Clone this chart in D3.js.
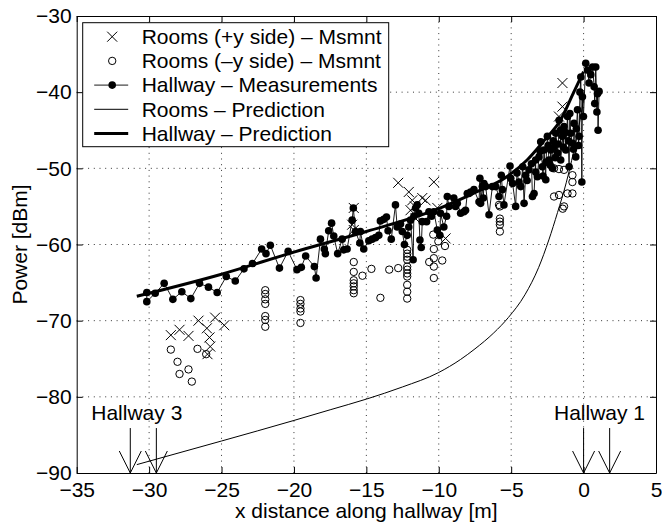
<!DOCTYPE html>
<html>
<head>
<meta charset="utf-8">
<script src="https://cdn.jsdelivr.net/npm/d3@7"></script>
<style>
  body { margin: 0; background: #fff; }
  text { font-family: "Liberation Sans", Arial, Helvetica, sans-serif; }
</style>
</head>
<body>
<script>
// hallway measurements (x [m], power [dBm])
var hallX = [-30.16,-30.16,-29.58,-28.96,-28.36,-27.74,-27.12,-26.52,-25.9,-25.3,-24.67,-24.05,-23.45,-22.86,-22.23,-21.93,-21.63,-21.0,-20.4,-19.79,-19.49,-19.19,-18.59,-18.47,-18.17,-17.9,-17.83,-17.6,-17.4,
  -17.25,-16.98,-16.67,-16.56,-16.33,-15.98,-15.9,-15.75,-15.45,-15.41,-15.18,-14.83,-14.6,-14.37,-14.14,-14.03,-13.8,-13.61,-13.5,-13.28,-12.99,-12.87,-12.64,-12.52,-12.37,-12.18,-12.07,-11.95,-11.77,-11.72,-11.6,-11.49,-11.38,-11.3,-11.21,-11.14,-10.84,-10.68,-10.5,-10.34,-10.1,-9.92,-9.88,-9.65,-9.46,-9.41,-9.3,
  -8.96,-8.84,-8.72,-8.49,-8.26,-8.15,-8.03,-7.92,-7.8,-7.57,-7.22,-7.16,-7.11,-6.99,-6.92,-6.88,-6.76,-6.53,-6.3,-6.07,-5.84,-5.68,-5.61,-5.5,-5.08,-5.03,-4.9,-4.69,-4.6,-4.46,-4.34,-4.2,-4.11,-4.0,-3.9,-3.77,-3.6,-3.53,-3.42,-3.31,-3.3,-3.19,-3.08,-3.0,-2.96,-2.85,-2.8,-2.73,-2.61,-2.6,-2.5,-2.45,-2.39,-2.3,-2.27,-2.15,-2.1,-2.04,-1.95,-1.92,-1.8,-1.75,-1.69,-1.6,-1.58,-1.46,-1.4,-1.35,-1.25,-1.23,-1.11,-1.05,-1.0,-0.95,-0.89,-0.77,-0.7,-0.66,-0.54,-0.5,-0.42,-0.35,-0.31,-0.25,-0.19,-0.12,-0.08,-0.01,
  0.15,0.27,0.38,0.5,0.62,0.73,0.77,0.84,0.92,0.96,1.0,1.07];
var hallY = [-66.3,-67.5,-66.4,-65.1,-67.2,-66.2,-67.1,-65.1,-65.6,-66.3,-64.2,-64.8,-63.2,-62.5,-60.6,-61.2,-60.1,-63.1,-60.9,-63.3,-63.0,-61.5,-62.9,-64.4,-59.3,-60.6,-61.2,-58.2,-57.2,
  -58.9,-61.2,-59.3,-60.7,-60.6,-56.8,-55.2,-58.3,-59.8,-58.3,-60.6,-59.5,-59.3,-59.1,-58.8,-56.9,-56.7,-56.4,-58.2,-59.3,-54.8,-57.7,-57.3,-58.3,-60.0,-58.8,-57.7,-56.8,-62.0,-56.3,-55.2,-54.8,-55.9,-59.4,-60.4,-57.0,-57.0,-55.7,-56.3,-55.7,-58.1,-58.8,-55.9,-57.7,-56.3,-53.7,-55.0,
  -53.9,-55.0,-54.6,-55.9,-55.7,-55.5,-53.3,-53.3,-53.1,-52.8,-54.4,-51.3,-54.6,-52.4,-53.9,-52.0,-52.4,-56.1,-52.4,-52.4,-53.7,-50.9,-52.8,-54.8,-49.7,-51.3,-52.0,-55.0,-50.6,-51.8,-52.4,-49.8,-54.6,-50.9,-51.6,-50.2,-49.4,-53.7,-53.3,-48.9,-50.5,-51.1,-48.5,-47.8,-46.5,-49.8,-51.0,-47.6,-51.5,-49.2,-45.8,-47.0,-48.9,-49.6,-47.6,-50.0,-46.4,-47.2,-48.6,-45.4,-48.0,-46.8,-43.7,-45.0,-48.9,-45.8,-47.2,-44.5,-45.3,-47.6,-43.2,-46.4,-49.8,-42.8,-45.4,-46.7,-47.5,-44.1,-48.5,-44.8,-42.3,-47.0,-45.8,-40.0,-38.0,-51.8,-40.6,-43.2,
  -36.2,-37.1,-38.8,-37.7,-36.7,-39.3,-41.5,-36.7,-42.6,-40.2,-45.0,-39.9];

// rooms on +y side (x markers)
var plusX = [-28.5,-27.9,-27.28,-26.59,-26.01,-25.44,-25.83,-25.78,-25.97,-24.81,-15.98,-15.87,-15.87,-12.8,-12.07,-11.83,-11.14,-10.91,-10.34,-10.1,-9.53,-11.95,-11.6,-11.65,-1.46,-1.46,-1.7];
var plusY = [-71.9,-71.2,-72.0,-70.0,-71.0,-69.6,-72.2,-73.4,-74.4,-70.6,-57.4,-58.1,-55.2,-51.9,-53.1,-54.2,-53.9,-54.2,-51.8,-55.2,-59.2,-55.5,-56.6,-55.0,-38.8,-41.9,-43.2];

// rooms on -y side (open circles)
var minusX = [-28.5,-28.04,-27.9,-27.28,-27.05,-26.66,-26.06,-21.98,-21.98,-21.98,-21.98,-21.98,-21.98,-21.98,-19.55,-19.55,-19.55,-19.55,-19.55,
  -15.87,-15.87,-15.87,-15.87,-15.87,-15.87,-15.87,-15.27,-14.65,-14.03,-13.42,-12.8,
  -12.18,-12.18,-12.18,-12.18,-12.18,-12.18,-12.18,-12.18,-12.18,-12.18,-12.18,
  -10.38,-10.34,-10.34,-10.34,-10.34,-10.66,-9.76,-10.03,-9.57,
  -5.84,-5.78,-5.78,-5.78,-5.78,-5.78,-2.04,-1.7,-1.35,-2.04,-1.7,-1.35,-0.77,-0.77,-0.77,-1.11,-1.44];
var minusY = [-73.8,-75.4,-77.0,-76.4,-78.0,-73.7,-74.4,-66.0,-66.5,-67.2,-67.8,-69.4,-69.9,-70.8,-67.3,-67.8,-68.4,-68.8,-70.3,
  -62.3,-63.6,-64.7,-65.1,-65.5,-66.0,-66.4,-64.1,-63.2,-67.0,-63.3,-63.1,
  -60.7,-61.2,-61.6,-62.0,-62.9,-63.3,-63.8,-64.2,-65.3,-66.2,-67.1,
  -58.7,-60.6,-61.8,-62.9,-64.4,-62.3,-62.1,-59.6,-60.2,
  -54.8,-55.0,-56.6,-57.0,-57.4,-58.3,-50.0,-50.1,-50.2,-53.7,-53.5,-55.0,-50.9,-51.8,-53.3,-53.3,-55.3];

// predictions
var roomPredX = [-30.85,-25,-20,-17.5,-15,-12.5,-10,-8.5,-7.5,-6.2,-5.2,-4.05,-3.1,-2.4,-1.8,-1.2,-0.7,-0.3,0];
var roomPredY = [-88.9,-85.8,-83.1,-81.7,-80.3,-78.7,-76.8,-75.1,-73.7,-71.6,-69.6,-66.6,-63.0,-59.4,-55.8,-51.9,-47.9,-44.2,-41.0];
var hallPredX = [-30.85,-25,-20,-15,-10,-7.5,-5.3,-3.9,-2.7,-1.6,-0.7,0];
var hallPredY = [-66.8,-63.9,-61.0,-58.3,-55.3,-53.2,-51.1,-48.9,-46.3,-43.7,-40.1,-37.3];

// hallway openings
var arrowX = [-31.3, -29.5, 0, 1.8];
var arrowTop = -84.1;
var hallLabels = ["Hallway 3", "Hallway 1"];
var hallLabelX = [-30.85, 1.1];

var xTicks = [-35,-30,-25,-20,-15,-10,-5,0,5];
var yTicks = [-90,-80,-70,-60,-50,-40,-30];
var legendLabels = ["Rooms (+y side) \u2013 Msmnt", "Rooms (\u2013y side) \u2013 Msmnt", "Hallway \u2013 Measurements", "Rooms \u2013 Prediction", "Hallway \u2013 Prediction"];

var W = 662, H = 523, fs = 21;
var margin = {top: 16, right: 6, bottom: 50, left: 76.7},
    width = 656 - margin.left,
    height = 473 - margin.top;

var x = d3.scaleLinear().domain([-35, 5]).range([0, width]);
var y = d3.scaleLinear().domain([-90, -30]).range([height, 0]);

var svg = d3.select("body").append("svg")
    .attr("width", W)
    .attr("height", H);
var g = svg.append("g")
    .attr("transform", "translate(" + margin.left + "," + margin.top + ")");

// dotted grid
g.append("g").selectAll("line").data(xTicks.slice(1, -1)).enter().append("line")
    .attr("x1", d => x(d)).attr("x2", d => x(d))
    .attr("y1", 0).attr("y2", height)
    .attr("stroke", "#000").attr("stroke-width", 0.8).attr("stroke-dasharray", "1,4.7");
g.append("g").selectAll("line").data(yTicks.slice(1, -1)).enter().append("line")
    .attr("y1", d => y(d)).attr("y2", d => y(d))
    .attr("x1", 0).attr("x2", width)
    .attr("stroke", "#000").attr("stroke-width", 0.8).attr("stroke-dasharray", "1,4.7");

// axes, ticks inward on all four sides
var fmt = d3.format("");
g.append("g").attr("transform", "translate(0," + height + ")")
    .call(d3.axisBottom(x).tickValues(xTicks).tickFormat(fmt).tickSizeInner(-6).tickSizeOuter(0).tickPadding(9));
g.append("g")
    .call(d3.axisLeft(y).tickValues(yTicks).tickFormat(fmt).tickSizeInner(-6).tickSizeOuter(0).tickPadding(5));
g.append("g")
    .call(d3.axisTop(x).tickValues(xTicks).tickFormat("").tickSizeInner(-6).tickSizeOuter(0));
g.append("g").attr("transform", "translate(" + width + ",0)")
    .call(d3.axisRight(y).tickValues(yTicks).tickFormat("").tickSizeInner(-6).tickSizeOuter(0));
g.selectAll(".tick text").attr("font-size", fs).attr("fill", "#000")
    .style("font-family", "'Liberation Sans', Arial, Helvetica, sans-serif");
g.selectAll(".domain").attr("stroke", "#000");
g.selectAll(".tick line").attr("stroke", "#000");

// axis labels
svg.append("text").attr("x", margin.left + width / 2).attr("y", 518)
    .attr("text-anchor", "middle").attr("font-size", fs).text("x distance along hallway [m]");
svg.append("text").attr("transform", "translate(27," + (margin.top + height / 2) + ") rotate(-90)")
    .attr("text-anchor", "middle").attr("font-size", fs).text("Power [dBm]");

// data
var hall = d3.range(hallX.length).map(i => [hallX[i], hallY[i]]).sort((a, b) => a[0] - b[0]);
var plus = d3.range(plusX.length).map(i => [plusX[i], plusY[i]]);
var minus = d3.range(minusX.length).map(i => [minusX[i], minusY[i]]);
var roomPred = d3.range(roomPredX.length).map(i => [roomPredX[i], roomPredY[i]]);
var hallPred = d3.range(hallPredX.length).map(i => [hallPredX[i], hallPredY[i]]);

var line = d3.line().x(d => x(d[0])).y(d => y(d[1]));
var smooth = d3.line().x(d => x(d[0])).y(d => y(d[1])).curve(d3.curveMonotoneX);

// x markers
var xs = 5;
g.append("g").selectAll("path").data(plus).enter().append("path")
    .attr("d", d => {
      var cx = x(d[0]), cy = y(d[1]);
      return "M" + (cx - xs) + "," + (cy - xs) + "L" + (cx + xs) + "," + (cy + xs) +
             "M" + (cx - xs) + "," + (cy + xs) + "L" + (cx + xs) + "," + (cy - xs);
    })
    .attr("stroke", "#000").attr("stroke-width", 1).attr("fill", "none");

// open circles
g.append("g").selectAll("circle").data(minus).enter().append("circle")
    .attr("cx", d => x(d[0])).attr("cy", d => y(d[1])).attr("r", 3.7)
    .attr("fill", "none").attr("stroke", "#000").attr("stroke-width", 1);

// hallway measurements
g.append("path").datum(hall).attr("d", line)
    .attr("fill", "none").attr("stroke", "#000").attr("stroke-width", 0.9);
g.append("g").selectAll("circle").data(hall).enter().append("circle")
    .attr("cx", d => x(d[0])).attr("cy", d => y(d[1])).attr("r", 3.8)
    .attr("fill", "#000");

// predictions
g.append("path").datum(roomPred).attr("d", smooth)
    .attr("fill", "none").attr("stroke", "#000").attr("stroke-width", 1);
g.append("path").datum(hallPred).attr("d", smooth)
    .attr("fill", "none").attr("stroke", "#000").attr("stroke-width", 3);

// hallway opening arrows
g.append("g").selectAll("path").data(arrowX).enter().append("path")
    .attr("d", d => {
      var cx = x(d), ty = y(-90), top = y(arrowTop);
      return "M" + cx + "," + top + "L" + cx + "," + ty +
             "M" + (cx - 11) + "," + (ty - 22) + "L" + cx + "," + ty + "L" + (cx + 11) + "," + (ty - 22);
    })
    .attr("fill", "none").attr("stroke", "#000").attr("stroke-width", 1);
g.append("g").selectAll("text").data(hallLabels).enter().append("text")
    .attr("x", (d, i) => x(hallLabelX[i])).attr("y", y(arrowTop) - 8)
    .attr("text-anchor", "middle").attr("font-size", fs).text(d => d);

// legend
var lg = svg.append("g").attr("transform", "translate(82.7,22.7)");
lg.append("rect").attr("width", 306).attr("height", 124)
    .attr("fill", "#fff").attr("stroke", "#000").attr("stroke-width", 1);
var rowY = i => 14 + i * 24.2;
var mx = 29.5;
legendLabels.forEach(function(t, i) {
  var ry = rowY(i);
  lg.append("text").attr("x", 59).attr("y", ry).attr("dy", "0.35em")
      .attr("font-size", fs).text(t);
  if (i === 0) {
    lg.append("path").attr("d", "M" + (mx - 5) + "," + (ry - 5) + "L" + (mx + 5) + "," + (ry + 5) +
        "M" + (mx - 5) + "," + (ry + 5) + "L" + (mx + 5) + "," + (ry - 5))
      .attr("stroke", "#000").attr("fill", "none");
  } else if (i === 1) {
    lg.append("circle").attr("cx", mx).attr("cy", ry).attr("r", 3.7)
      .attr("fill", "none").attr("stroke", "#000");
  } else {
    lg.append("line").attr("x1", 11.5).attr("x2", 45.5).attr("y1", ry).attr("y2", ry)
      .attr("stroke", "#000").attr("stroke-width", i === 4 ? 3 : (i === 2 ? 0.9 : 1));
    if (i === 2) lg.append("circle").attr("cx", mx).attr("cy", ry).attr("r", 3.8).attr("fill", "#000");
  }
});
</script>
</body>
</html>
